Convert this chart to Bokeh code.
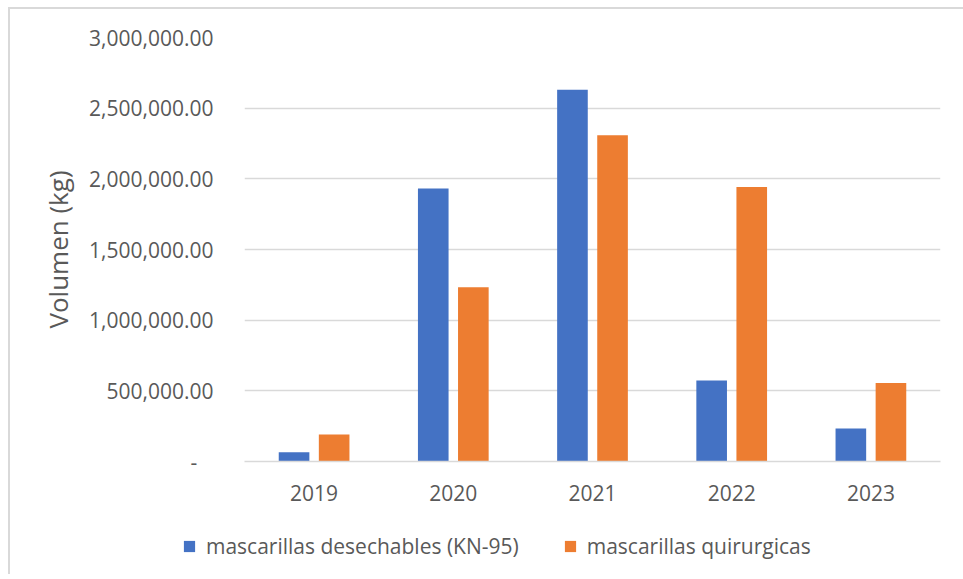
from bokeh.plotting import figure
from bokeh.layouts import column
from bokeh.models import ColumnDataSource, FactorRange, Range1d, FixedTicker, CustomJSTickFormatter, Legend, LegendItem
from bokeh.transform import dodge
from bokeh.embed import file_html
from bokeh.resources import INLINE

years = ["2019", "2020", "2021", "2022", "2023"]
kn95 = [65000, 1931000, 2630000, 573000, 233000]
quirurgicas = [191000, 1233000, 2309000, 1942000, 556000]
y_ticks = [0, 500000, 1000000, 1500000, 2000000, 2500000, 3000000]
series_names = ["mascarillas desechables (KN-95)", "mascarillas quirurgicas"]
colors = ["#4472C4", "#ED7D31"]

FONT = "Open Sans"
TXT = "#595959"

src = ColumnDataSource(dict(year=years, kn95=kn95, quir=quirurgicas))

p = figure(
    x_range=FactorRange(*years, range_padding=0),
    y_range=Range1d(0, 3000000),
    width=953, height=520,
    output_backend="svg", toolbar_location=None,
    min_border_left=234, min_border_right=23, min_border_top=28, min_border_bottom=68,
)
p.frame_align = False
p.outline_line_color = None
p.background_fill_color = "white"
p.border_fill_color = "white"

p.vbar(x=dodge("year", -0.144, range=p.x_range), top="kn95", width=0.22,
       source=src, fill_color=colors[0], line_color=None)
p.vbar(x=dodge("year", 0.144, range=p.x_range), top="quir", width=0.22,
       source=src, fill_color=colors[1], line_color=None)

# grid
p.xgrid.grid_line_color = None
p.ygrid.grid_line_color = "#d9d9d9"
p.ygrid.grid_line_width = 1.5

# y axis
p.yaxis.ticker = FixedTicker(ticks=y_ticks)
p.yaxis.formatter = CustomJSTickFormatter(code="""
if (tick == 0) { return "-\\u00a0\\u00a0\\u00a0"; }
return tick.toLocaleString('en-US', {minimumFractionDigits: 2, maximumFractionDigits: 2});
""")
p.yaxis.axis_line_color = None
p.yaxis.major_tick_line_color = None
p.yaxis.minor_tick_line_color = None
p.yaxis.major_tick_out = 0
p.yaxis.major_label_standoff = 31
p.yaxis.major_label_text_font = FONT
p.yaxis.major_label_text_font_size = "21px"
p.yaxis.major_label_text_color = TXT
p.yaxis.axis_label = "Volumen (kg)"
p.yaxis.axis_label_text_font = FONT
p.yaxis.axis_label_text_font_size = "26px"
p.yaxis.axis_label_text_font_style = "normal"
p.yaxis.axis_label_text_color = TXT
p.yaxis.axis_label_standoff = 10

# x axis
p.xaxis.axis_line_color = "#d9d9d9"
p.xaxis.axis_line_width = 1.5
p.xaxis.major_tick_line_color = None
p.xaxis.minor_tick_line_color = None
p.xaxis.major_tick_out = 0
p.xaxis.major_label_standoff = 23
p.xaxis.major_label_text_font = FONT
p.xaxis.major_label_text_font_size = "21px"
p.xaxis.major_label_text_color = TXT

# legend strip below the chart; its renderers reuse the same data but have
# zero width and lie outside this strip's visible range, so only the legend shows
pl = figure(
    x_range=FactorRange(*years), y_range=Range1d(-2, -1),
    width=953, height=45,
    output_backend="svg", toolbar_location=None,
    x_axis_location=None, y_axis_location=None,
    min_border_left=0, min_border_right=0, min_border_top=0, min_border_bottom=0,
)
pl.frame_align = False
pl.grid.visible = False
pl.outline_line_color = None
pl.border_fill_color = "white"
pl.background_fill_color = "white"
lr1 = pl.vbar(x="year", top="kn95", width=0, source=src, fill_color=colors[0], line_color=None)
lr2 = pl.vbar(x="year", top="quir", width=0, source=src, fill_color=colors[1], line_color=None)

legend = Legend(
    items=[LegendItem(label=series_names[0], renderers=[lr1]),
           LegendItem(label=series_names[1], renderers=[lr2])],
    orientation="horizontal",
    location=(172, 14),
    label_text_font=FONT, label_text_font_size="21px", label_text_color=TXT,
    glyph_width=14, glyph_height=14, label_standoff=10, spacing=44,
    padding=0, margin=0, border_line_color=None, background_fill_alpha=0,
)
pl.add_layout(legend, "center")

layout = column(p, pl, spacing=0,
                styles={"border-left": "2px solid #d9d9d9", "border-top": "2px solid #d9d9d9",
                        "position": "relative", "left": "8px", "top": "7px"})

open("out.html", "w").write(file_html(layout, INLINE))
